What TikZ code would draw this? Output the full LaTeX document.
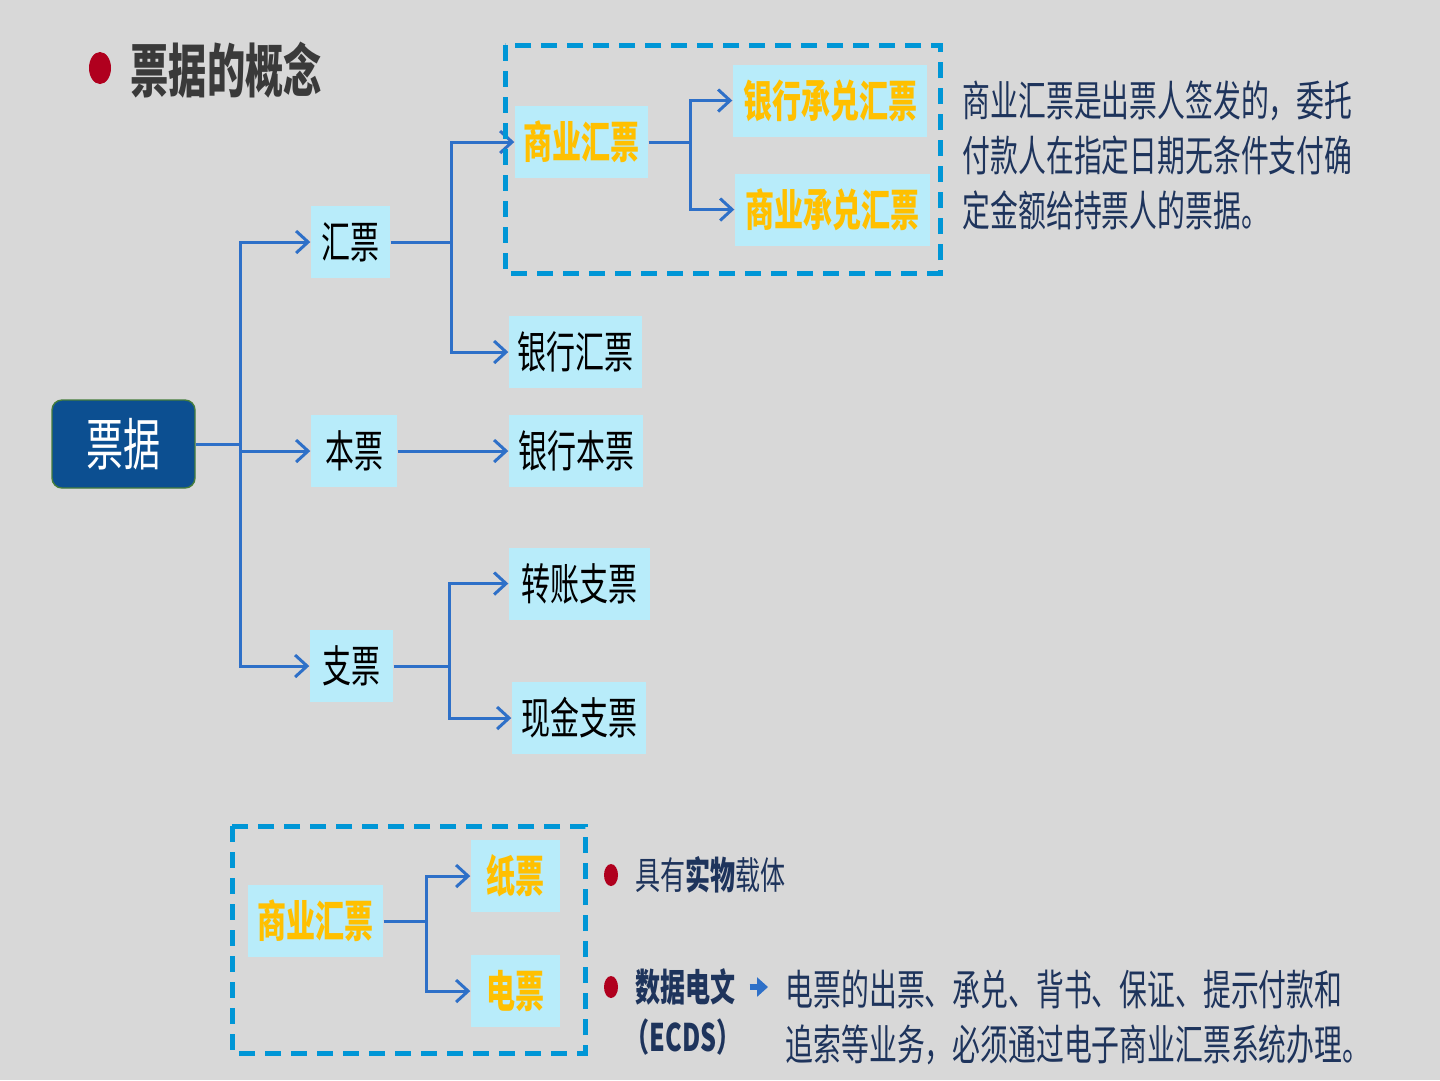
\documentclass[tikz,border=0pt]{standalone}
\usepackage{fontspec}
\setmainfont{Noto Sans CJK SC}[FakeStretch=0.66]
\usetikzlibrary{arrows.meta}

\definecolor{bgGray}{RGB}{216,216,216}
\definecolor{boxCyan}{RGB}{184,236,250}
\definecolor{rootBlue}{RGB}{12,79,145}
\definecolor{rootEdge}{RGB}{70,125,60}
\definecolor{linkBlue}{RGB}{46,112,200}
\definecolor{dashBlue}{RGB}{0,150,214}
\definecolor{textNavy}{RGB}{30,52,92}
\definecolor{titleGray}{RGB}{58,58,58}
\definecolor{billOrange}{RGB}{255,192,0}
\definecolor{dotRed}{RGB}{176,0,30}

\tikzset{
  piao/.style={fill=boxCyan, inner sep=0pt, minimum height=7.2mm, font=\fontsize{12.5}{15}\selectfont},
  gold/.style={piao, text=billOrange, font=\fontsize{12.5}{15}\selectfont\bfseries},
  link/.style={draw=linkBlue, line width=0.3mm, -{Straight Barb[length=1.2mm,width=2.2mm]}},
  dashframe/.style={draw=dashBlue, line width=0.5mm, dash pattern=on 1.6mm off 1mm},
  note/.style={text=textNavy, anchor=west, inner sep=0pt, font=\fontsize{12}{15.65}\selectfont},
}

\begin{document}
\begin{tikzpicture}[x=0.1mm, y=-0.1mm]
    \useasboundingbox (0,0) rectangle (1440,1080);
    \fill[bgGray] (0,0) rectangle (1440,1080);
    % title
    \fill[dotRed] (100,68) ellipse [x radius=11, y radius=16];
    \node[anchor=west, inner sep=0pt, text=titleGray, font=\fontsize{16.5}{20}\selectfont\bfseries] (title) at (130,70) {票据的概念};
    % tree
    \node[fill=rootBlue, draw=rootEdge, rounded corners=1mm, minimum width=14.3mm, minimum height=8.8mm,
          text=white, font=\fontsize{16}{19}\selectfont] (root) at (123.5,444) {票据};
    \foreach \n/\x/\y/\w/\t in {huipiao/350.5/242/7.9/汇票, benpiao/354/451/8.6/本票, zhipiao/351.5/666/8.3/支票,
        yhhp/575.5/352/13.3/银行汇票, yhbp/576/451/13.4/银行本票, zzzp/579.5/583.5/14.1/转账支票, xjzp/579/718/13.4/现金支票}
        \node[piao, minimum width=\w mm] (\n) at (\x,\y) {\t};
    \foreach \n/\x/\y/\w/\t in {shangye/581.5/142/13.3/商业汇票, yhcd/830/100.5/19.4/银行承兑汇票, sycd/832.5/209.5/19.5/商业承兑汇票,
        bsy/315.5/921/13.5/商业汇票, zp/515.5/876/8.9/纸票, dp/515.5/991/8.9/电票}
        \node[gold, minimum width=\w mm] (\n) at (\x,\y) {\t};
    \draw[link] (root.east) -- ++(45,0) coordinate (rj) |- (huipiao.west);
    \draw[link] (rj) |- (benpiao.west);
    \draw[link] (rj) |- (zhipiao.west);
    \draw[link] (huipiao.east) -- ++(61,0) coordinate (hj) |- (shangye.west);
    \draw[link] (hj) |- (yhhp.west);
    \draw[link] (benpiao.east) -- (yhbp.west);
    \draw[link] (zhipiao.east) -- ++(56,0) coordinate (zj) |- (zzzp.west);
    \draw[link] (zj) |- (xjzp.west);
    \draw[link] (shangye.east) -- ++(42,0) coordinate (sj) |- (yhcd.west);
    \draw[link] (sj) |- (sycd.west);
    \draw[link] (bsy.east) -- ++(43,0) coordinate (bj) |- (zp.west);
    \draw[link] (bj) |- (dp.west);
    \draw[dashframe] (505,45) rectangle (940,273);
    \draw[dashframe] (232,826) rectangle (585,1053);
    % notes
    \node[note, align=left] (desc) at (962,155) {商业汇票是出票人签发的，委托\\付款人在指定日期无条件支付确\\定金额给持票人的票据。};
    \foreach \y in {875,987}
        \fill[dotRed] (611,\y) ellipse [x radius=7, y radius=11];
    \node[note, font=\fontsize{10.8}{13}\selectfont] (shiwu) at (635,875) {具有\textbf{实物}载体};
    \node[note, font=\fontsize{10.8}{13}\selectfont\bfseries] (shuju) at (635,987) {数据电文};
    \node[note, font=\fontsize{10.8}{13}\selectfont\bfseries] (ecds) at (624,1037) {（ECDS）};
    \node[note, align=left] (ecdsdesc) at (785,1017.5) {电票的出票、承兑、背书、保证、提示付款和\\追索等业务，必须通过电子商业汇票系统办理。};
    \draw[linkBlue, line width=0.6mm, -{Triangle[length=1.1mm,width=1.9mm]}, shorten <=1.3mm, shorten >=1.7mm]
        (shuju.east) -- (shuju.east -| ecdsdesc.west);
\end{tikzpicture}
\end{document}
